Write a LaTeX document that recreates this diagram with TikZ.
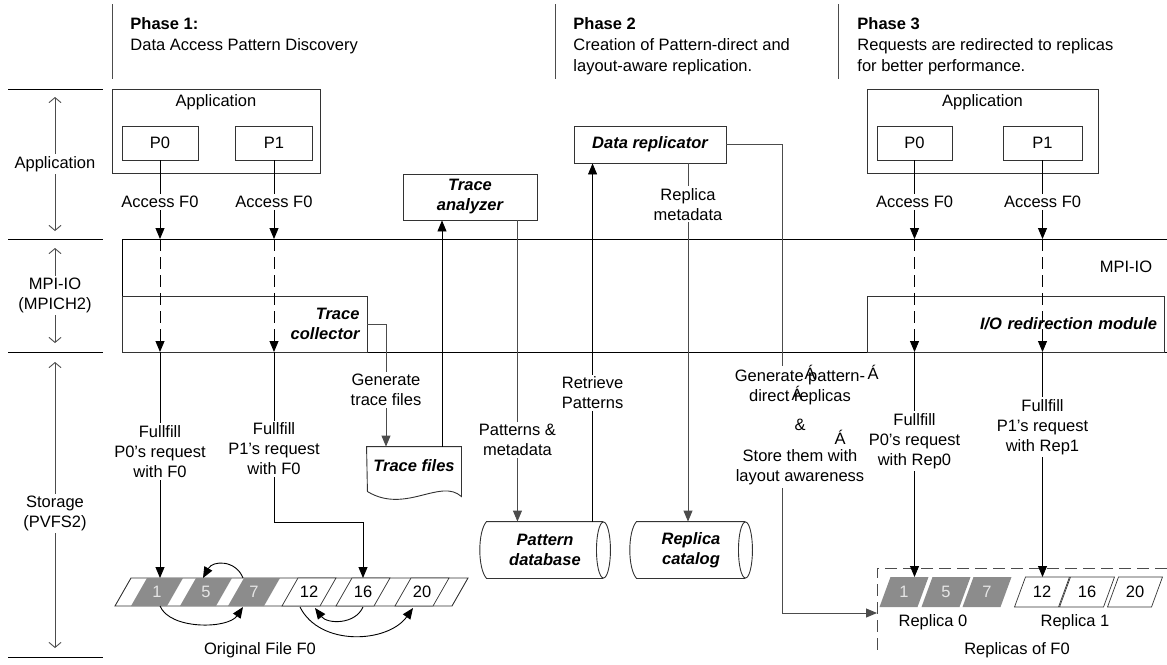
\documentclass[tikz,border=0pt]{standalone}
\usepackage{fontspec}
\setmainfont{Liberation Sans}
\usetikzlibrary{positioning}
\usetikzlibrary{arrows.meta}
\tikzset{
    box/.style={
        draw=black!80,
        inner sep=3pt},
    tool/.style={
        box,
        font=\bfseries\itshape,
        align=center},
    lbl/.style={
        fill=white,
        align=center,
        inner sep=2pt},
    head/.style={
        anchor=north west,
        align=left,
        inner sep=0pt,
        font=\fontsize{16.5}{21}\selectfont},
    arr/.style={
        -{Triangle[length=11pt,width=9pt]}},
    axis/.style={
        draw=black!70,
        {Straight Barb[length=5pt,width=12pt]}-{Straight Barb[length=5pt,width=12pt]}},
    gline/.style={draw=black!70},
    dashln/.style={dash pattern=on 12pt off 6pt},
    gblk/.style={fill=black!45},
    wblk/.style={draw=black!80, line width=0.7pt, fill=white},
    num/.style={inner sep=1pt}}

\begin{document}
\fontsize{16.5}{20}\selectfont
\begin{tikzpicture}[x=1pt,y=-1pt,line width=0.9pt]
    \useasboundingbox (0,0) rectangle (1167,664);

    % phases
    \foreach \x in {112,555,838}
        \draw[gline] (\x,4) -- (\x,79);
    \node[head] (ph1) at (130,17) {\textbf{Phase 1:}\\Data Access Pattern Discovery};
    \node[head] (ph2) at (573,17) {\textbf{Phase 2}\\Creation of Pattern-direct and\\layout-aware replication.};
    \node[head] (ph3) at (857,17) {\textbf{Phase 3}\\Requests are redirected to replicas\\for better performance.};

    % layers
    \foreach \y in {89,239,352,657}
        \draw (8,\y) -- (103,\y);
    \draw[axis] (55,97) -- node[lbl] (lapp) {Application} (55,231);
    \draw[axis] (55,248) -- node[lbl] (lmpi) {MPI-IO\\(MPICH2)} (55,343);
    \draw[axis] (55,362) -- node[lbl,pos=0.53] (lsto) {Storage\\(PVFS2)} (55,648);

    \coordinate (mpitop) at (122,239);
    \coordinate (mpibot) at (122,352);
    \draw (1167,239) -- (mpitop) -- (mpibot) -- (1167,352);
    \node (mpilbl) at (1126,267) {MPI-IO};

    % applications
    \node[box, minimum width=208, minimum height=84] (app1) at (216,131) {};
    \node (app1lbl) at (216,102) {Application};
    \node[box, minimum width=76, minimum height=34] (p0a) at (160,143) {P0};
    \node[box, minimum width=77, minimum height=34] (p1a) at (274,143) {P1};
    \node[box, minimum width=231, minimum height=84] (app3) at (982.5,131) {};
    \node (app3lbl) at (982.5,102) {Application};
    \node[box, minimum width=75, minimum height=34] (p0c) at (914.5,143) {P0};
    \node[box, minimum width=79, minimum height=34] (p1c) at (1042.5,143) {P1};

    % tools
    \node[tool, minimum width=245, minimum height=56, text width=230, align=right] (tcoll) at (244.5,324) {Trace\\collector};
    \node[tool, minimum width=297, minimum height=56, text width=283, align=right] (iored) at (1015.5,324) {I/O redirection module};
    \node[tool, minimum width=134, minimum height=46] (tana) at (470,197) {Trace\\analyzer};
    \node[tool, minimum width=152, minimum height=37] (drep) at (650,144.5) {Data replicator};

    % trace files
    \node[minimum width=94, minimum height=38, font=\bfseries\itshape] (tfile) at (414,466) {Trace files};
    \draw[box] (tfile.north west) -- (tfile.north east) -- ++(0,50)
        .. controls +(-21,-19) and +(38,23) .. ++(-94,-5) -- cycle;

    % databases
    \node[minimum width=116, minimum height=56, font=\bfseries\itshape, align=center] (pdb) at (545,550) {Pattern\\database};
    \draw[box] (pdb.north east) -- (pdb.north west)
        .. controls +(-9,10) and +(-9,-10) .. (pdb.south west) -- (pdb.south east);
    \draw[box] (pdb.east) ellipse [x radius=7, y radius=28];
    \node[minimum width=108, minimum height=56, font=\bfseries\itshape, align=center] (rcat) at (691,550) {Replica\\catalog};
    \draw[box] (rcat.north east) -- (rcat.north west)
        .. controls +(-9,10) and +(-9,-10) .. (rcat.south west) -- (rcat.south east);
    \draw[box] (rcat.east) ellipse [x radius=7, y radius=28];

    % original file
    \coordinate (ftop) at (115,578);
    \draw[draw=black!80] (115,606) -- (131,578) -- (468,578) -- (452,606) -- cycle;
    \foreach \x/\n in {157/1,206/5,254/7} {
        \fill[gblk] (\x-26,606) -- (\x-10,578) -- (\x+26,578) -- (\x+10,606) -- cycle;
        \node[num, text=white!90!black] (o\n) at (\x,592) {\n};
    }
    \foreach \x/\n in {309/12,363/16,422/20} {
        \draw[wblk] (\x-27,606) -- (\x-11,578) -- (\x+27,578) -- (\x+11,606) -- cycle;
        \node[num] (o\n) at (\x,592) {\n};
    }
    \node (origlbl) at (260,650) {Original File F0};

    \draw[arr] ([xshift=-11,yshift=14]o7.center) .. controls +(-7,-18) and +(10,-18) .. ([xshift=-3,yshift=14]o5.center);
    \draw[arr] ([xshift=3,yshift=-14]o1.center) .. controls +(10,24) and +(-15,22) .. ([xshift=-11,yshift=-15]o7.center);
    \draw[arr] ([yshift=-15]o16.center) .. controls +(-8,18) and +(12,16) .. ([xshift=6,yshift=-16]o12.center);
    \draw[arr] ([xshift=-9,yshift=-15]o12.center) .. controls +(20,40) and +(-25,35) .. ([xshift=-9,yshift=-16]o20.center);

    % replicas
    \coordinate (rbox) at (877,568);
    \coordinate (rtop) at (877,577);
    \draw[gline, dashln] (1167,568) -- (rbox) -- ++(0,85);
    \foreach \x/\n in {904/1,946/5,987/7} {
        \fill[gblk] (\x-24.5,607) -- (\x-13.5,577) -- (\x+24.5,577) -- (\x+13.5,607) -- cycle;
        \node[num, text=white!90!black] (r\n) at (\x,592) {\n};
    }
    \foreach \x/\n in {1042/12,1087/16,1135/20} {
        \draw[wblk] (\x-27.5,607) -- (\x-16.5,577) -- (\x+27.5,577) -- (\x+16.5,607) -- cycle;
        \node[num] (r\n) at (\x,592) {\n};
    }
    \node (rep0lbl) at (933,622) {Replica 0};
    \node (rep1lbl) at (1075,622) {Replica 1};
    \node (replbl) at (1017,650) {Replicas of F0};

    % phase 1 requests
    \draw[arr] (p0a) -- node[lbl, pos=0.53] {Access F0} (p0a |- mpitop);
    \draw[arr, dashln] (p0a |- mpitop) -- (p0a |- mpibot);
    \draw[arr] (p0a |- mpibot) -- node[lbl, pos=0.44] {Fullfill\\P0's request\\with F0} (p0a |- ftop);
    \draw[arr] (p1a) -- node[lbl, pos=0.53] {Access F0} (p1a |- mpitop);
    \draw[arr, dashln] (p1a |- mpitop) -- (p1a |- mpibot);
    \draw[arr] (p1a |- mpibot) -- node[lbl, pos=0.57] {Fullfill\\P1's request\\with F0} ++(0,170) -| (o16 |- ftop);

    % phase 2 flow
    \draw[arr, gline] (tcoll.east) -| node[lbl, pos=0.77] {Generate\\trace files} ([xshift=-28]tfile.north);
    \coordinate (tfout) at ([xshift=28]tfile.north);
    \draw[arr] (tfout) -- (tfout |- tana.south);
    \coordinate (tanaout) at ([xshift=-20]tana.south east);
    \draw[arr, gline] (tanaout) -- node[lbl, pos=0.73] {Patterns \&\\metadata} (tanaout |- pdb.north);
    \coordinate (drepin) at ([xshift=19]drep.south west);
    \draw[arr] (drepin |- pdb.north) -- node[lbl, pos=0.36] {Retrieve\\Patterns} (drepin);
    \coordinate (drepout) at ([xshift=38]drep.south);
    \draw[arr, gline] (drepout) -- node[lbl, pos=0.114] {Replica\\metadata} (drepout |- rcat.north);
    \draw[arr, gline] (drep.east) -- ++(56,0) |- ([yshift=-45]rbox);
    \node[lbl, inner sep=4pt] (genlbl) at (800,427) {Generate pattern-\\direct replicas\\[9pt]\&\\[11pt]Store them with\\layout awareness};
    \node[inner sep=0pt] (art1) at (810,372) {Á};
    \node[inner sep=0pt] (art2) at (873,372) {Á};
    \node[inner sep=0pt] (art3) at (797,393) {Á};
    \node[inner sep=0pt] (art4) at (840,437) {Á};

    % phase 3 requests
    \draw[arr] (p0c) -- node[lbl, pos=0.53] {Access F0} (p0c |- mpitop);
    \draw[arr, dashln] (p0c |- mpitop) -- (p0c |- mpibot);
    \draw[arr] (p0c |- mpibot) -- node[lbl, pos=0.395] {Fullfill\\P0's request\\with Rep0} (p0c |- rtop);
    \draw[arr] (p1c) -- node[lbl, pos=0.53] {Access F0} (p1c |- mpitop);
    \draw[arr, dashln] (p1c |- mpitop) -- (p1c |- mpibot);
    \draw[arr] (p1c |- mpibot) -- node[lbl, pos=0.333] {Fullfill\\P1's request\\with Rep1} (p1c |- rtop);
\end{tikzpicture}
\end{document}
